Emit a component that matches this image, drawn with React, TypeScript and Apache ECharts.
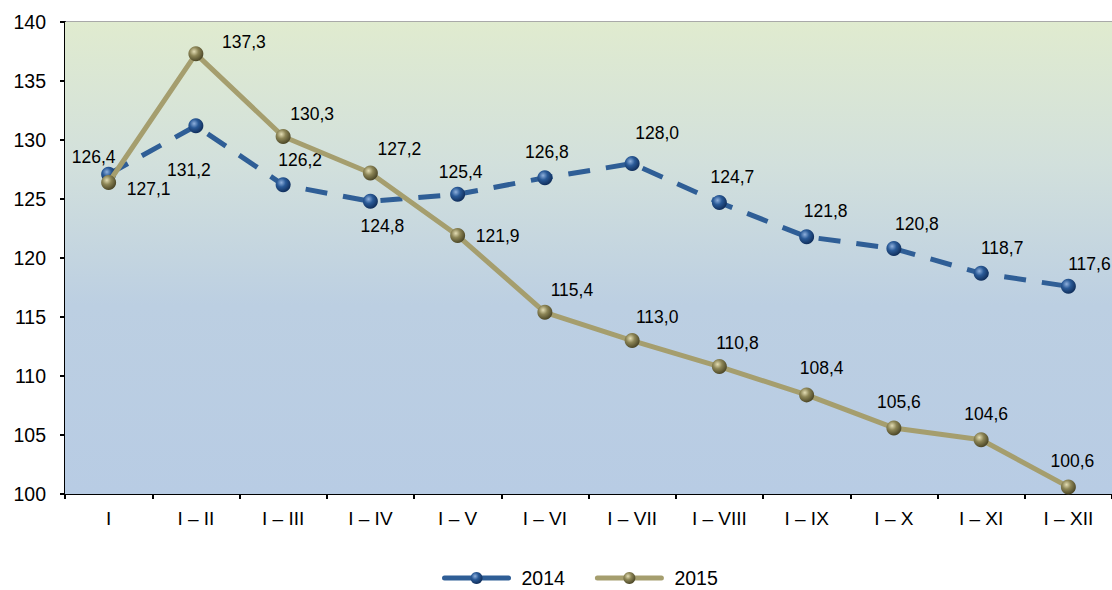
import React, { useEffect, useRef } from "react";
import * as echarts from "echarts";

const categories = ["I", "I – II", "I – III", "I – IV", "I – V", "I – VI", "I – VII", "I – VIII", "I – IX", "I – X", "I – XI", "I – XII"];
const values2014 = [127.1, 131.2, 126.2, 124.8, 125.4, 126.8, 128.0, 124.7, 121.8, 120.8, 118.7, 117.6];
const values2015 = [126.4, 137.3, 130.3, 127.2, 121.9, 115.4, 113.0, 110.8, 108.4, 105.6, 104.6, 100.6];
const yTicks = { min: 100, max: 140, interval: 5 };

// label placement (styling, px offsets from each point)
const offsets2014 = [[40, 15], [-7, 44], [17, -25], [12, 25], [3, -22], [2, -26], [25, -31], [13, -26], [19, -26], [23, -25], [21, -25], [21, -22]];
const offsets2015 = [[-15, -25], [48, -12], [29, -22], [29, -24], [40, 0], [27, -22], [25, -24], [18, -24], [15, -27], [5, -26], [5, -26], [4, -26]];

const fmt = (v: number) => v.toFixed(1).replace(".", ",");
const FONT = "Liberation Sans, Arial, sans-serif";
const C2014 = "#2f5e96";
const C2015 = "#a59e6e";

export default function App() {
  const ref = useRef<HTMLDivElement>(null);
  useEffect(() => {
    document.body.style.margin = "0";
    const chart = echarts.init(ref.current!, null, { renderer: "svg" });
    const ball = (light: string, mid: string, dark: string) =>
      new echarts.graphic.RadialGradient(0.38, 0.35, 0.65, [
        { offset: 0, color: light },
        { offset: 0.45, color: mid },
        { offset: 1, color: dark },
      ]);
    const mk = (vals: number[], offs: number[][]) =>
      vals.map((v, i) => ({
        value: v,
        label: { offset: offs[i] },
      }));
    const labelBase = {
      show: true,
      position: "inside" as const,
      align: "center" as const,
      verticalAlign: "middle" as const,
      color: "#000",
      fontSize: 17.5,
      fontFamily: FONT,
      formatter: (p: any) => fmt(p.value),
    };
    chart.setOption({
      animation: false,
      backgroundColor: "#fff",
      grid: { left: 65, right: 0, top: 22, bottom: 96 },
      legend: {
        top: 563,
        left: 437,
        itemWidth: 64,
        itemHeight: 15,
        itemGap: 30,
        textStyle: { fontSize: 19.5, color: "#000", fontFamily: FONT, padding: [0, 0, 0, 8] },
        data: [
          { name: "2014", lineStyle: { type: "solid", cap: "round", width: 5, color: C2014 } },
          { name: "2015", lineStyle: { type: "solid", cap: "round", width: 5, color: C2015 } },
        ],
      },
      xAxis: {
        type: "category",
        data: categories,
        boundaryGap: true,
        axisLine: { lineStyle: { color: "#000", width: 2 } },
        axisTick: { show: true, length: 5, lineStyle: { color: "#000", width: 2 } },
        axisLabel: { color: "#000", fontSize: 19, margin: 15, fontFamily: FONT },
        splitLine: { show: false },
      },
      yAxis: {
        type: "value",
        min: yTicks.min,
        max: yTicks.max,
        interval: yTicks.interval,
        axisLine: { show: true, lineStyle: { color: "#000", width: 2 } },
        axisTick: { show: true, length: 5, lineStyle: { color: "#000", width: 2 } },
        axisLabel: { color: "#000", fontSize: 19.5, margin: 19, fontFamily: FONT },
        splitLine: { show: true, lineStyle: { color: "#8c8c8c", width: 1.5 } },
        splitArea: { show: false },
      },
      series: [
        {
          name: "bg",
          type: "line",
          data: [],
          markArea: {
            silent: true,
            itemStyle: {
              color: new echarts.graphic.LinearGradient(0, 0, 0, 1, [
                { offset: 0, color: "#e0ebcf" },
                { offset: 0.3, color: "#d2e0dc" },
                { offset: 0.6, color: "#bccfe2" },
                { offset: 1, color: "#b8cce4" },
              ]),
            },
            data: [[{ xAxis: categories[0], yAxis: yTicks.max, x: 65 }, { yAxis: yTicks.min, x: 1112 }]],
          },
          z: 0,
        },
        {
          name: "2014",
          type: "line",
          data: mk(values2014, offsets2014),
          symbol: "circle",
          symbolSize: 15,
          lineStyle: { color: C2014, width: 5, type: [22, 16] },
          itemStyle: { color: ball("#8fb0dc", "#2a5a97", "#112f5c"), borderWidth: 0 },
          label: labelBase,
          z: 3,
        },
        {
          name: "2015",
          type: "line",
          data: mk(values2015, offsets2015),
          symbol: "circle",
          symbolSize: 15,
          lineStyle: { color: C2015, width: 5 },
          itemStyle: { color: ball("#e3ddb4", "#8c8556", "#4d4828"), borderWidth: 0 },
          label: labelBase,
          z: 4,
        },
      ],
    });
    return () => chart.dispose();
  }, []);
  return <div ref={ref} style={{ width: 1112, height: 590 }} />;
}
